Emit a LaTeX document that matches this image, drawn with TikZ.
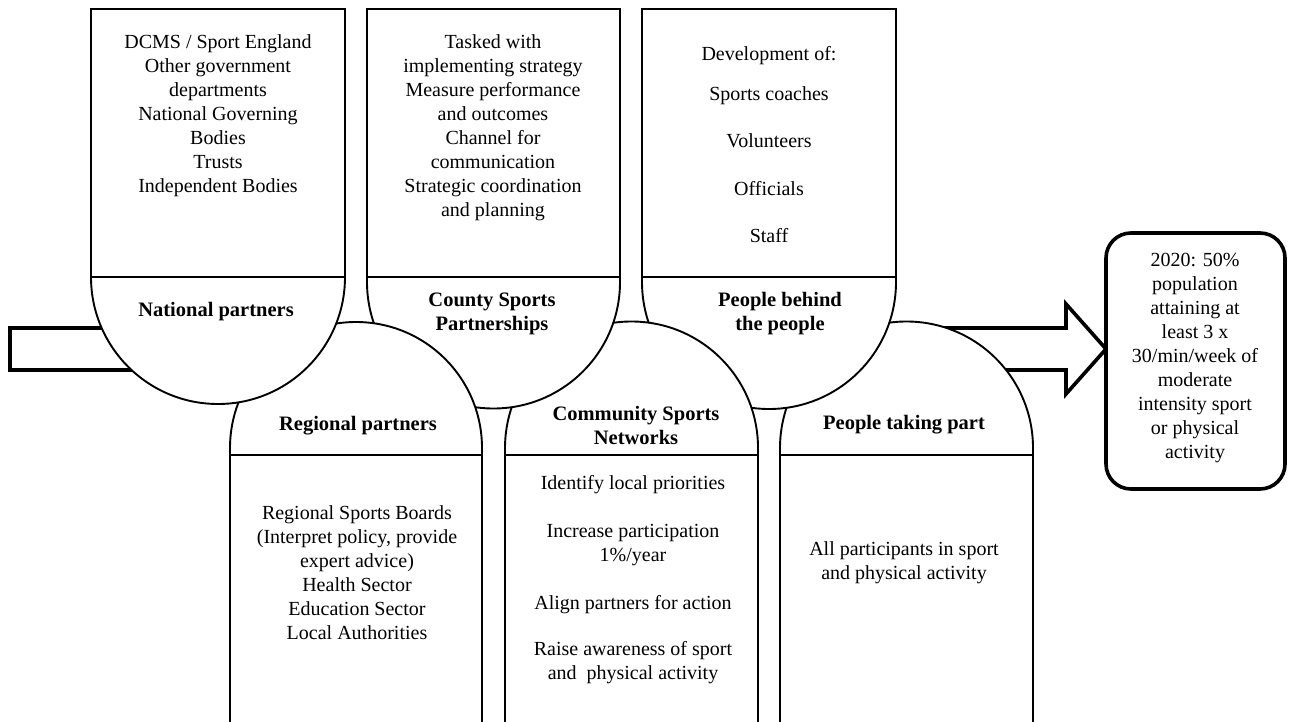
\documentclass[tikz,border=0pt]{standalone}
\usepackage{fontspec}
\setmainfont{Liberation Serif}
\begin{document}
\begin{tikzpicture}[x=1pt,y=-1pt,line join=miter,
  shp/.style={draw=black,fill=white,line width=1.9pt},
  dv/.style={line width=1.9pt},
  bigarrow/.style={draw=black,fill=white,line width=3.6pt},
  goalbox/.style={draw=black,fill=white,line width=3.6pt,rounded corners=25pt},
  body/.style={align=center,font=\fontsize{20}{24}\selectfont,inner sep=0pt},
  ttl/.style={align=center,font=\fontsize{20.5}{24}\selectfont\bfseries,inner sep=0pt}]
\useasboundingbox (0,0) rectangle (1308,722);
\clip (0,0) rectangle (1308,722);
% big block arrow behind everything
\draw[bigarrow] (10,328) -- (1066,328) -- (1066,304) -- (1106,349) -- (1066,394) -- (1066,370) -- (10,370) -- cycle;
% B3 people taking part
\draw[shp] (780,740) -- (780,448) arc[start angle=180,end angle=360,radius=126.5] -- (1033,740) -- cycle;
\draw[dv] (780,455) -- (1033,455);
% T3 people behind the people
\draw[shp] (642,9) -- (896,9) -- (896,282) arc[start angle=0,end angle=180,radius=127] -- cycle;
\draw[dv] (642,277) -- (896,277);
% B2 community sports networks
\draw[shp] (505,740) -- (505,448) arc[start angle=180,end angle=360,radius=126.5] -- (758,740) -- cycle;
\draw[dv] (505,455) -- (758,455);
% T2 county sports partnerships
\draw[shp] (367,9) -- (620,9) -- (620,282) arc[start angle=0,end angle=180,radius=126.5] -- cycle;
\draw[dv] (367,277) -- (620,277);
% B1 regional partners
\draw[shp] (230,740) -- (230,448) arc[start angle=180,end angle=360,radius=126] -- (482,740) -- cycle;
\draw[dv] (230,455) -- (482,455);
% T1 national partners
\draw[shp] (91,9) -- (345,9) -- (345,277) arc[start angle=0,end angle=180,radius=127] -- cycle;
\draw[dv] (91,277) -- (345,277);
% goal box
\draw[goalbox] (1106,233) rectangle (1285,489);
% texts
\node[body] (t1body) at (218,116) {DCMS / Sport England\\Other government\\departments\\National Governing\\Bodies\\Trusts\\Independent Bodies};
\node[ttl] (t1title) at (216,312) {National partners};
\node[body] (t2body) at (493,128) {Tasked with\\implementing strategy\\Measure performance\\and outcomes\\Channel for\\communication\\Strategic coordination\\and planning};
\node[ttl] (t2title) at (492,314) {County Sports\\Partnerships};
\node[body] (t3body) at (769,145) {Development of:\\[16pt]Sports coaches\\[23pt]Volunteers\\[24pt]Officials\\[23pt]Staff};
\node[ttl] (t3title) at (780,314) {People behind\\the people};
\node[ttl] (b1title) at (358,426) {Regional partners};
\node[body] (b1body) at (357,573) {Regional Sports Boards\\(Interpret policy, provide\\expert advice)\\Health Sector\\Education Sector\\Local Authorities};
\node[ttl] (b2title) at (636,425) {Community Sports\\Networks};
\node[body] (b2body) at (633,580) {Identify local priorities\\[24pt]Increase participation\\1\%/year\\[24pt]Align partners for action\\[22pt]Raise awareness of sport\\and\ \ physical activity};
\node[ttl] (b3title) at (904,425) {People taking part};
\node[body] (b3body) at (904,563) {All participants in sport\\and physical activity};
\node[body] (goaltext) at (1195,358) {2020: 50\%\\population\\attaining at\\least 3 x\\30/min/week of\\moderate\\intensity sport\\or physical\\activity};
\end{tikzpicture}
\end{document}
